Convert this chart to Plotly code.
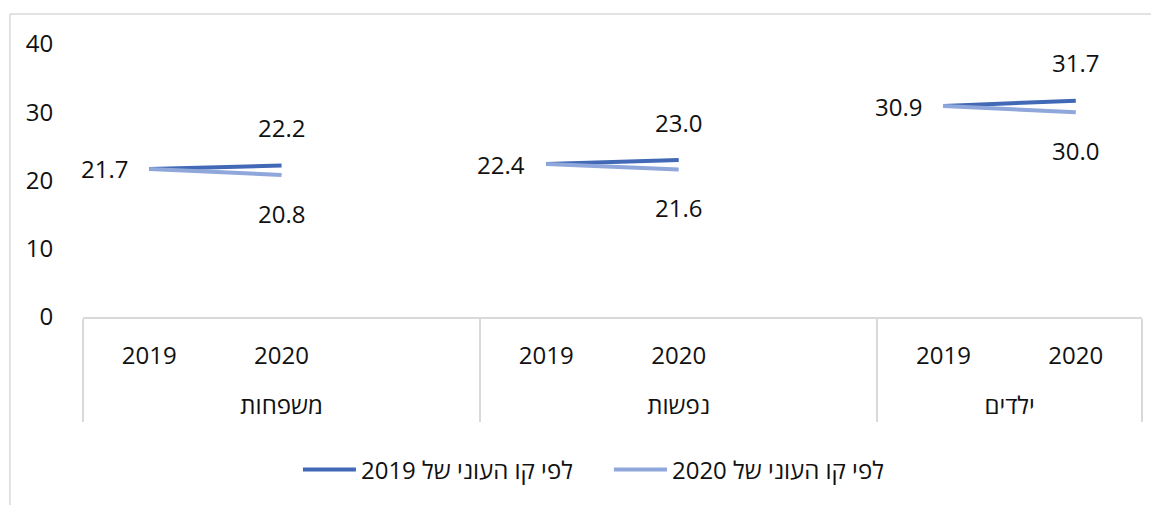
import plotly.graph_objects as go

# categories (Excel-style two level axis; blank slot separates the groups)
groups = ["משפחות", "משפחות", "משפחות", "נפשות", "נפשות", "נפשות", "ילדים", "ילדים"]
years = ["2019", "2020", " ", "2019", "2020", "  ", "2019", "2020"]

series_names = ["לפי קו העוני של 2019", "לפי קו העוני של 2020"]
line_2019 = [21.7, 22.2, None, 22.4, 23.0, None, 30.9, 31.7]
line_2020 = [21.7, 20.8, None, 22.4, 21.6, None, 30.9, 30.0]

y_ticks = [0, 10, 20, 30, 40]

FONT = "Open Sans, Liberation Sans, DejaVu Sans, sans-serif"
DARK = "#4169b5"
LIGHT = "#8fa7da"


def rtl(s):
    return "\u202b" + s + "\u202c"


# second axis level pushed down a line, like Excel's spacing
group_labels = ["<br>" + g for g in groups]

fig = go.Figure()
fig.add_trace(go.Scatter(x=[group_labels, years], y=line_2019, mode="lines",
                         name=rtl(series_names[0]) + "\u00a0" * 5,
                         line=dict(color=DARK, width=4), connectgaps=False, hoverinfo="skip"))
fig.add_trace(go.Scatter(x=[group_labels, years], y=line_2020, mode="lines", name=rtl(series_names[1]),
                         line=dict(color=LIGHT, width=4), connectgaps=False, hoverinfo="skip"))

# data labels, Excel places them left / above / below the points
label_font = dict(family=FONT, size=24, color="#111111")
for i, (yr, v) in enumerate(zip(years, line_2019)):
    if v is None:
        continue
    if yr == "2019":
        fig.add_annotation(x=i, y=v, text=f"{v:.1f}", showarrow=False, xshift=-45, font=label_font)
    else:
        fig.add_annotation(x=i, y=v, text=f"{v:.1f}", showarrow=False, yshift=38, font=label_font)
for i, (yr, v) in enumerate(zip(years, line_2020)):
    if v is None or yr == "2019":
        continue
    fig.add_annotation(x=i, y=v, text=f"{v:.1f}", showarrow=False, yshift=-38, font=label_font)

# chart area border (left + top visible in the crop)
fig.add_shape(type="line", xref="paper", yref="paper", x0=-0.069, x1=-0.069, y0=-0.8, y1=1.11,
              line=dict(color="#d9d9d9", width=1.5))
fig.add_shape(type="line", xref="paper", yref="paper", x0=-0.069, x1=1.1, y0=1.11, y1=1.11,
              line=dict(color="#d9d9d9", width=1.5))

# page body adds an 8px offset, margins are compensated for it
fig.update_layout(
    width=1159, height=505,
    margin=dict(l=75, r=25, t=36, b=196, autoexpand=False),
    plot_bgcolor="white", paper_bgcolor="white",
    font=dict(family=FONT, size=24, color="#111111"),
    showlegend=True,
    legend=dict(orientation="h", x=0.482, xanchor="center", y=-0.56, yanchor="middle",
                font=dict(family=FONT, size=24, color="#111111"), itemwidth=53),
    xaxis=dict(type="multicategory", range=[-0.5, len(years) - 0.5],
               showline=True, linecolor="#d9d9d9", linewidth=2,
               showdividers=True, dividercolor="#d9d9d9", dividerwidth=2, automargin=False,
               ticklabelstandoff=16,
               showgrid=False, ticks="", tickfont=dict(family=FONT, size=24, color="#111111")),
    yaxis=dict(range=[0, 40], tickvals=y_ticks, showgrid=False, zeroline=False, showline=False,
               ticks="outside", ticklen=24, tickcolor="rgba(0,0,0,0)", automargin=False,
               tickfont=dict(family=FONT, size=24, color="#111111")),
)

fig.write_html("out.html")
